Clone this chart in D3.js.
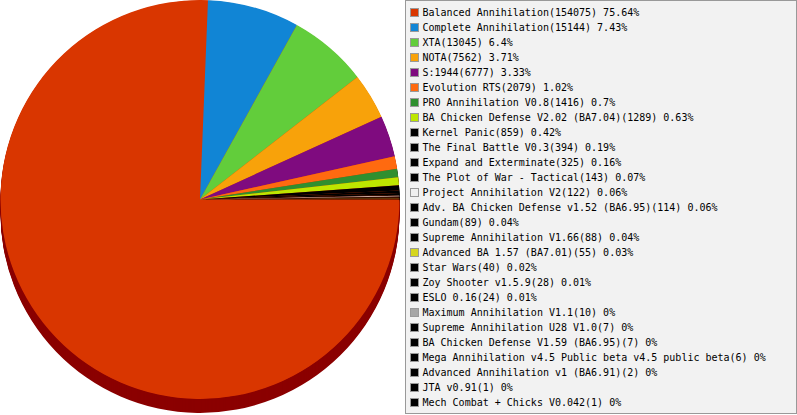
<!DOCTYPE html>
<html><head><meta charset="utf-8">
<script src="https://cdn.jsdelivr.net/npm/d3@7"></script>
<style>body{margin:0;background:#fff}svg{display:block}</style>
</head><body>
<svg id="c" width="797" height="415"></svg>
<script>
const categories = [
 "Balanced Annihilation","Complete Annihilation","XTA","NOTA","S:1944","Evolution RTS",
 "PRO Annihilation V0.8","BA Chicken Defense V2.02 (BA7.04)","Kernel Panic","The Final Battle V0.3",
 "Expand and Exterminate","The Plot of War - Tactical","Project Annihilation V2",
 "Adv. BA Chicken Defense v1.52 (BA6.95)","Gundam","Supreme Annihilation V1.66",
 "Advanced BA 1.57 (BA7.01)","Star Wars","Zoy Shooter v1.5.9","ESLO 0.16",
 "Maximum Annihilation V1.1","Supreme Annihilation U28 V1.0","BA Chicken Defense V1.59 (BA6.95)",
 "Mega Annihilation v4.5 Public beta v4.5 public beta","Advanced Annihilation v1 (BA6.91)",
 "JTA v0.91","Mech Combat + Chicks V0.042"
];
const values = [154075,15144,13045,7562,6777,2079,1416,1289,859,394,325,143,122,114,89,88,55,40,28,24,10,7,7,6,2,1,1];
const colors = ["#d93600","#1185d5","#62cd3b","#f8a20a","#7f0b7f","#ff6a10","#2f8f2f","#bde600","#000000","#000000",
 "#000000","#000000","#f0f0f0","#000000","#000000","#000000","#d6d61e","#000000","#000000","#000000",
 "#a6a6a6","#000000","#000000","#000000","#000000","#000000","#000000"];

const svg = d3.select("#c");
const total = d3.sum(values);
const data = categories.map((name,i)=>({name, value:values[i], color:colors[i]}));

const cx = 200, cy = 199.5, r = 199.5, depth = 14;
const pie = d3.pie().value(d=>d.value).sort(null).startAngle(Math.PI/2).endAngle(Math.PI/2 + 2*Math.PI);
const arcs = pie(data);
const arc = d3.arc().innerRadius(0).outerRadius(r);
const side = c => { const k = d3.rgb(c); return d3.rgb(k.r*0.64, k.g*0, k.b*0.3); };

const g = svg.append("g");
for (let dy = depth; dy >= 1; dy--) {
  g.append("g").attr("transform",`translate(${cx},${cy+dy})`)
    .selectAll("path").data(arcs).join("path")
    .attr("d",arc).attr("fill",d=>side(d.data.color));
}
// underlay to avoid dark seams between face slices
g.append("circle").attr("cx",cx).attr("cy",cy).attr("r",r-0.6).attr("fill",colors[0]);
g.append("g").attr("transform",`translate(${cx},${cy})`)
  .selectAll("path").data(arcs).join("path")
  .attr("d",arc).attr("fill",d=>d.data.color);

// legend
const lg = svg.append("g");
lg.append("rect").attr("x",405.5).attr("y",0.5).attr("width",391).attr("height",413)
  .attr("fill","#f2f2f2").attr("stroke","#999");
const fmt = v => { const p = Math.round(v/total*10000)/100; return String(p); };
const rows = lg.selectAll("g.row").data(data).join("g").attr("class","row")
  .attr("transform",(d,i)=>`translate(0,${i*15})`);
rows.append("rect").attr("x",410.5).attr("y",8.5).attr("width",8).attr("height",8)
  .attr("fill",d=>d.color).attr("stroke","#999");
rows.append("text").attr("x",422.5).attr("y",16)
  .attr("font-family","DejaVu Sans Mono").attr("font-size",10).attr("fill","#000")
  .text(d=>`${d.name}(${d.value}) ${fmt(d.value)}%`);
</script>
</body></html>
